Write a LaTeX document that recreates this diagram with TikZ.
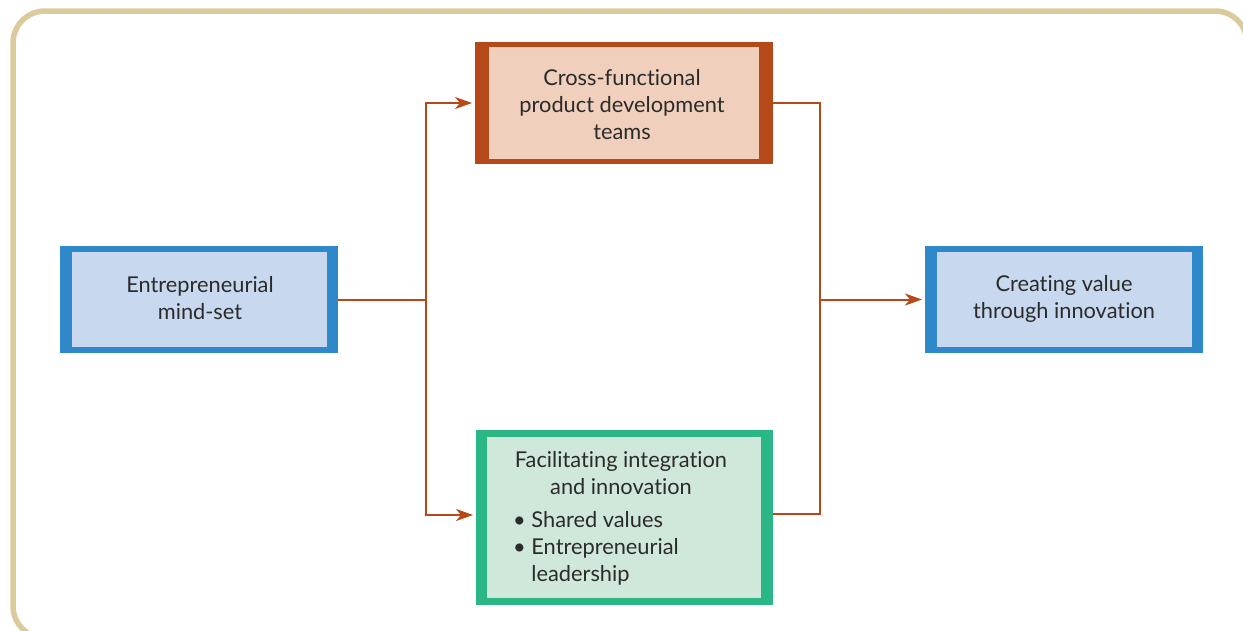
\documentclass[tikz,border=0pt]{standalone}
\usepackage{fontspec}
\setmainfont{Lato}[Ligatures=NoCommon]
\usetikzlibrary{arrows.meta}
\definecolor{frame}{HTML}{DBCB9C}
\definecolor{rust}{HTML}{B5491A}
\definecolor{peach}{HTML}{F0D0BC}
\definecolor{bluebd}{HTML}{2E88C9}
\definecolor{bluefl}{HTML}{C8D9EF}
\definecolor{greenbd}{HTML}{2BB686}
\definecolor{greenfl}{HTML}{CFE8DA}
\definecolor{txt}{HTML}{2B2B2B}
\tikzset{
  outerbox/.style={rectangle, inner sep=0pt, outer sep=0pt},
  label text/.style={text=txt, font=\fontsize{21.8}{27}\selectfont, align=center, inner sep=0pt},
  conn/.style={draw=rust, line width=2pt},
  arr/.style={conn, -{Stealth[length=17pt,width=12pt,inset=5pt]}, shorten >=3pt},
}
\begin{document}
\begin{tikzpicture}[x=1pt,y=-1pt]
\useasboundingbox (0,0) rectangle (1243,630);
\begin{scope}
\clip (0,0) rectangle (1243,630);
\draw[frame, line width=5.5pt, rounded corners=32pt] (1300,638) -- (13,638) -- (13,11) -- (1247,11) -- (1247,700);
\end{scope}
% boxes (outer)
\node[outerbox, fill=bluebd, minimum width=278pt, minimum height=107pt] (em) at (199,299.5) {};
\node[outerbox, fill=rust, minimum width=298pt, minimum height=122pt] (cf) at (624,103) {};
\node[outerbox, fill=greenbd, minimum width=297pt, minimum height=175pt] (fi) at (624.5,517.5) {};
\node[outerbox, fill=bluebd, minimum width=278pt, minimum height=107pt] (cv) at (1064,299.5) {};
% inner fills
\fill[bluefl] ([xshift=11.5pt,yshift=-6pt]em.north west) rectangle ([xshift=-11.5pt,yshift=6pt]em.south east);
\fill[bluefl] ([xshift=12pt,yshift=-6pt]cv.north west) rectangle ([xshift=-11pt,yshift=6pt]cv.south east);
\fill[peach] ([xshift=14pt,yshift=-5pt]cf.north west) rectangle ([xshift=-14pt,yshift=5.5pt]cf.south east);
\fill[greenfl] ([xshift=11pt,yshift=-6.5pt]fi.north west) rectangle ([xshift=-12pt,yshift=7pt]fi.south east);
% texts
\node[label text] (emt) at (200,298.5) {Entrepreneurial\\mind-set};
\node[label text] (cvt) at (1064,298.5) {Creating value\\through innovation};
\node[label text] (cft) at (622,105) {Cross-functional\\product development\\teams};
\node[label text] (fih) at (621,473.5) {Facilitating integration\\and innovation};
\node[label text, align=left, anchor=north west] (fib) at (513,511) {\textbullet\ Shared values\\\textbullet\ Entrepreneurial\\\phantom{\textbullet\ }leadership};
% connectors
\coordinate (split) at (426,299.5);
\coordinate (join) at (819.5,299.5);
\draw[conn] (em.east) -- (split);
\draw[arr] (split) |- (cf.west);
\draw[arr] (split) |- (fi.west |- 0,515);
\draw[conn] (cf.east) -| (join);
\draw[conn] (fi.east |- 0,514) -| (join);
\draw[arr] (join) -- (cv.west);
\end{tikzpicture}
\end{document}
